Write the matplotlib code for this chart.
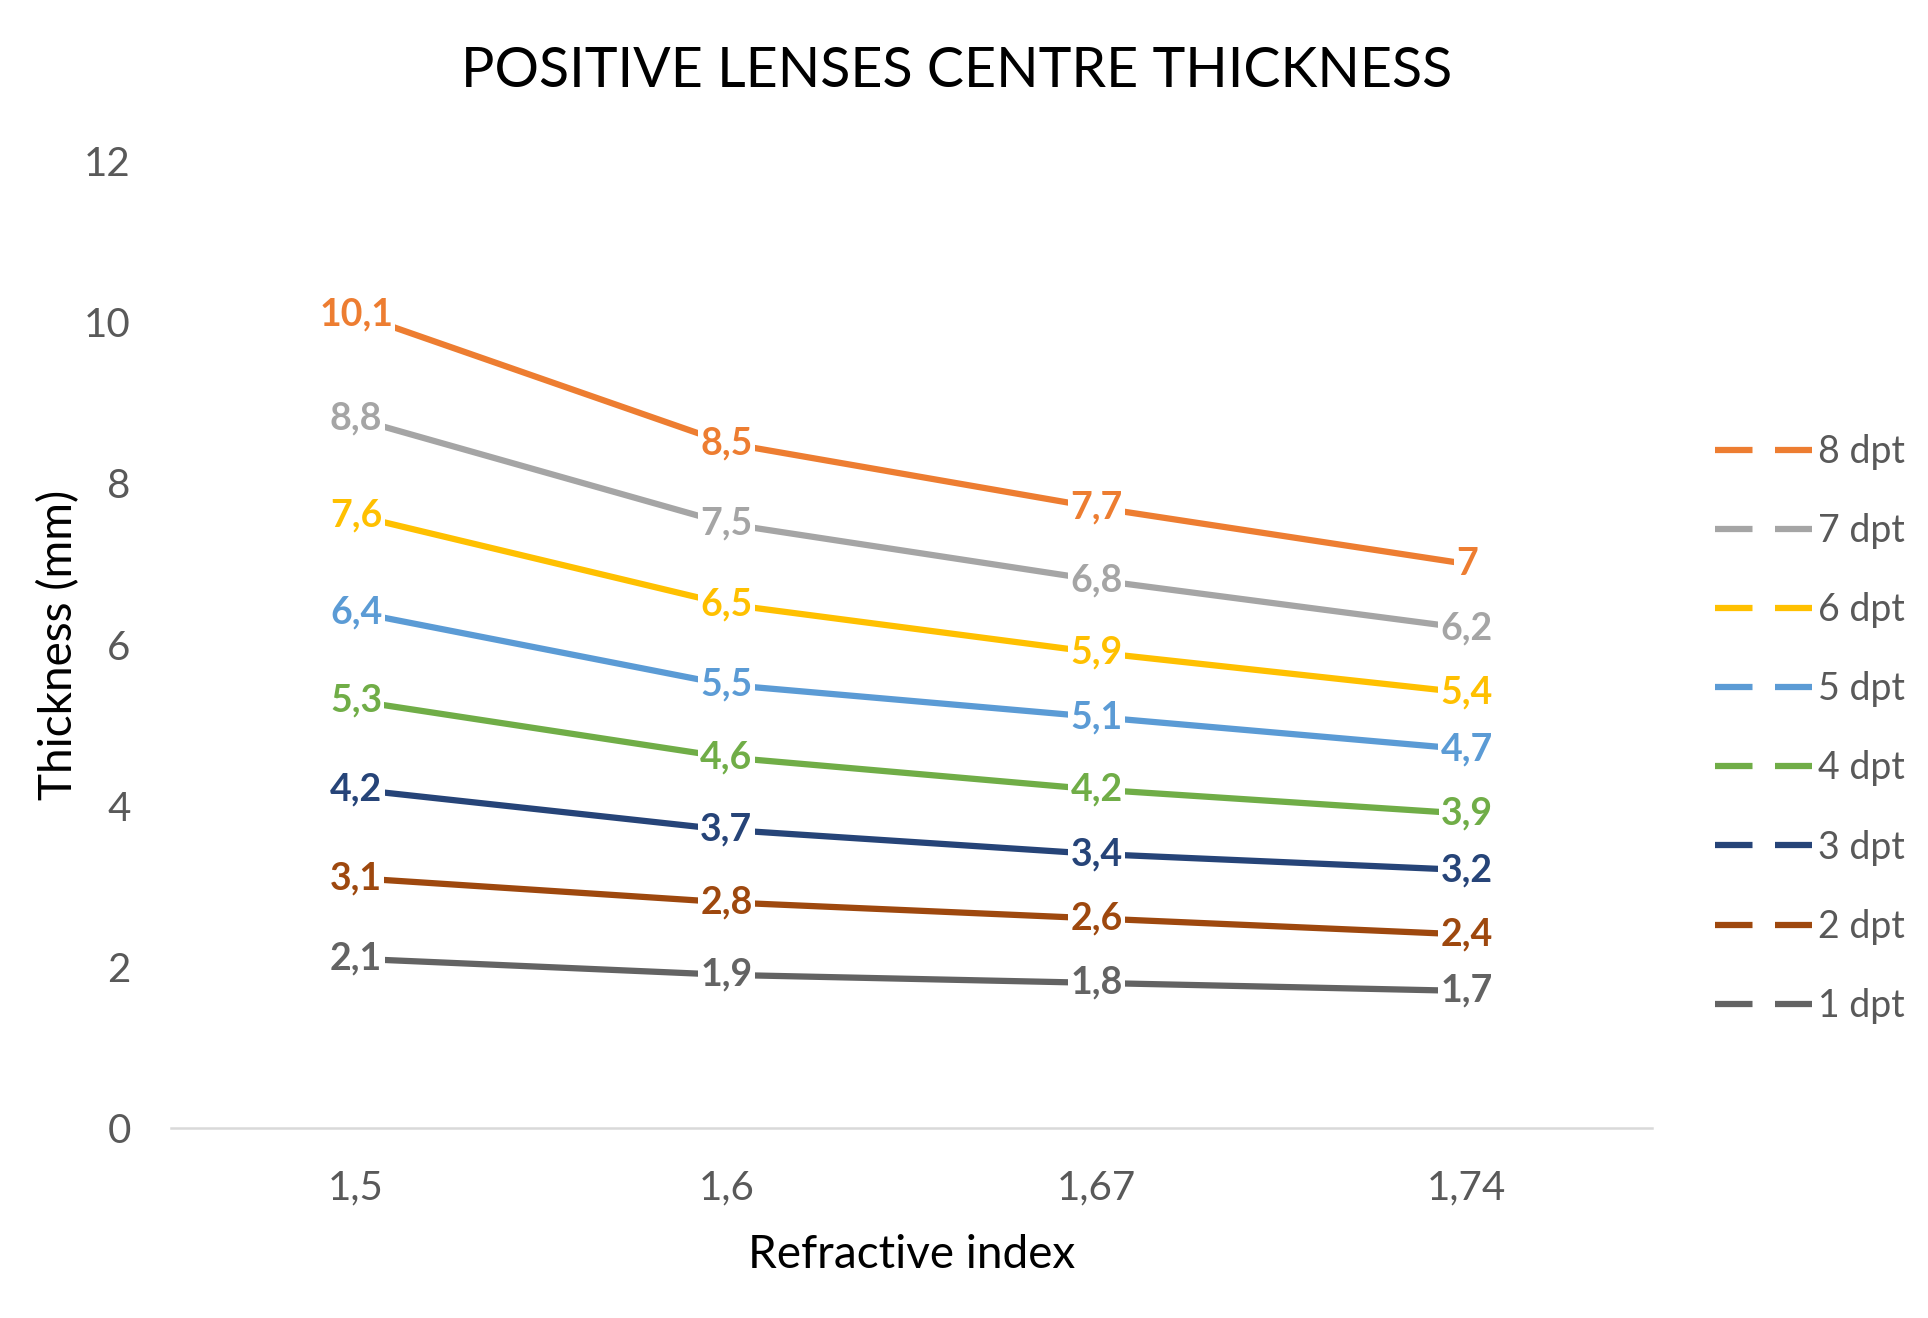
import numpy as np
import matplotlib.pyplot as plt
from matplotlib.lines import Line2D

plt.rcParams['font.family'] = ['Lato', 'DejaVu Sans']

refr_index = ['1,5', '1,6', '1,67', '1,74']
series_names = ['8 dpt', '7 dpt', '6 dpt', '5 dpt', '4 dpt', '3 dpt', '2 dpt', '1 dpt']
thick_8 = [10.1, 8.5, 7.7, 7.0]
thick_7 = [8.8, 7.5, 6.8, 6.2]
thick_6 = [7.6, 6.5, 5.9, 5.4]
thick_5 = [6.4, 5.5, 5.1, 4.7]
thick_4 = [5.3, 4.6, 4.2, 3.9]
thick_3 = [4.2, 3.7, 3.4, 3.2]
thick_2 = [3.1, 2.8, 2.6, 2.4]
thick_1 = [2.1, 1.9, 1.8, 1.7]
series = [thick_8, thick_7, thick_6, thick_5, thick_4, thick_3, thick_2, thick_1]
colors = ['#ED7D31', '#A5A5A5', '#FFC000', '#5B9BD5', '#70AD47', '#264478', '#9E480E', '#636363']

fig = plt.figure(figsize=(19.28, 13.18), dpi=100)
ax = fig.add_axes([0.0887, 0.1442, 0.7681, 0.7336])

x = np.arange(len(refr_index))
for vals, col in zip(series, colors):
    ax.plot(x, vals, color=col, lw=4.5, solid_capstyle='butt', zorder=2)
    for xi, v in zip(x, vals):
        lab = ('%g' % v).replace('.', ',')
        ax.text(xi, v, lab, color=col, fontsize=27, fontweight='bold',
                ha='center', va='center', zorder=3,
                bbox=dict(facecolor='white', edgecolor='none', pad=1.5))

ax.set_xlim(-0.5, 3.5)
ax.set_ylim(0, 12)
ax.set_yticks(np.arange(0, 13, 2))
ax.set_xticks(x)
ax.set_xticklabels(refr_index)
for s in ['top', 'right', 'left']:
    ax.spines[s].set_visible(False)
ax.spines['bottom'].set_color('#D9D9D9')
ax.spines['bottom'].set_linewidth(1.8)
ax.tick_params(axis='both', length=0, labelsize=29, labelcolor='#595959')
ax.tick_params(axis='y', pad=29)
ax.tick_params(axis='x', pad=30)

ax.set_xlabel('Refractive index', fontsize=33, labelpad=20)
ax.set_ylabel('Thickness (mm)', fontsize=33, labelpad=3)
fig.suptitle('POSITIVE LENSES CENTRE THICKNESS', fontsize=40, x=0.496, y=0.965)

handles = [Line2D([0], [0], color=c, lw=4.5, linestyle=(0, (6.0, 3.6))) for c in colors]
leg = fig.legend(handles, series_names, loc='center left', bbox_to_anchor=(0.872, 0.447),
                 frameon=False, fontsize=27, handlelength=2.6, handletextpad=0.15,
                 labelspacing=1.15, labelcolor='#595959')

fig.savefig('out.png', dpi=100)
